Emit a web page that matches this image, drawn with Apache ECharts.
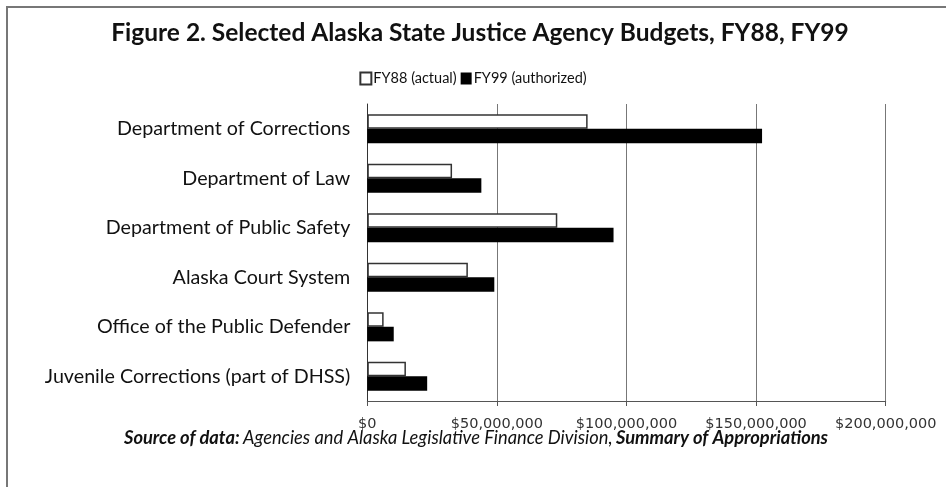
<!DOCTYPE html>
<html><head><meta charset="utf-8">
<script src="https://cdn.jsdelivr.net/npm/echarts@6/dist/echarts.min.js"></script>
<style>html,body{margin:0;padding:0;background:#fff}#c{width:946px;height:487px}</style>
</head><body><div id="c"></div>
<script>
const categories = ["Department of Corrections","Department of Law","Department of Public Safety","Alaska Court System","Office of the Public Defender","Juvenile Corrections (part of DHSS)"];
const fy88 = [85000000, 32700000, 73300000, 38800000, 6300000, 14900000];
const fy99 = [152300000, 44000000, 95000000, 49000000, 10200000, 23100000];
const seriesNames = ["FY88 (actual)", "FY99 (authorized)"];
const xTicks = [0, 50000000, 100000000, 150000000, 200000000];

const chart = echarts.init(document.getElementById('c'), null, {renderer:'canvas'});
chart.setOption({
  animation:false,
  backgroundColor:'#fff',
  legend:{top:66, left:'center', itemWidth:11, itemHeight:12, itemGap:4, icon:'rect',
    textStyle:{fontFamily:'Lato', fontSize:14.5, color:'#111', padding:[0,0,0,-3]},
    data:seriesNames},
  grid:{left:367.3, right:60.3, top:104, bottom:86, containLabel:false},
  xAxis:{type:'value', min:xTicks[0], max:xTicks[xTicks.length-1], interval:xTicks[1]-xTicks[0],
    axisLine:{show:true, lineStyle:{color:'#555', width:1}},
    axisTick:{show:true, length:5, lineStyle:{color:'#555'}},
    splitLine:{show:true, lineStyle:{color:'#777', width:1}},
    axisLabel:{margin:16, fontFamily:'DejaVu Sans', fontSize:14.5, color:'#333',
      formatter:v=>'$'+v.toLocaleString('en-US')}},
  yAxis:{type:'category', data:categories, inverse:true,
    axisLine:{show:true, lineStyle:{color:'#333'}}, axisTick:{show:false},
    axisLabel:{margin:17, fontFamily:'Lato', fontSize:19.7, color:'#111'}},
  series:[
    {name:seriesNames[0], type:'bar', data:fy88, barGap:'0%', barCategoryGap:'41%',
      itemStyle:{color:'#fff', borderColor:'#333', borderWidth:1.5}},
    {name:seriesNames[1], type:'bar', data:fy99, barGap:'0%', barCategoryGap:'41%',
      itemStyle:{color:'#000'}}
  ],
  graphic:[
    {type:'rect', shape:{x:7, y:7, width:960, height:500}, style:{fill:null, stroke:'#777', lineWidth:2}, silent:true},
    {type:'text', x:480, y:33, silent:true, style:{
      text:'Figure 2. Selected Alaska State Justice Agency Budgets, FY88, FY99',
      textAlign:'center', textVerticalAlign:'middle',
      fontFamily:'Lato', fontWeight:'bold', fontSize:24.5, fill:'#111'}},
    {type:'text', x:476, y:438, silent:true, style:{
      text:'{b|Source of data:} {i|Agencies and Alaska Legislative Finance Division,} {b|Summary of Appropriations}',
      textAlign:'center', textVerticalAlign:'middle',
      rich:{b:{fontFamily:'Lato', fontStyle:'italic', fontWeight:'bold', fontSize:18.3, fill:'#111'},
            i:{fontFamily:'Lato', fontStyle:'italic', fontSize:18.3, fill:'#111'}}}}
  ]
});
</script></body></html>
